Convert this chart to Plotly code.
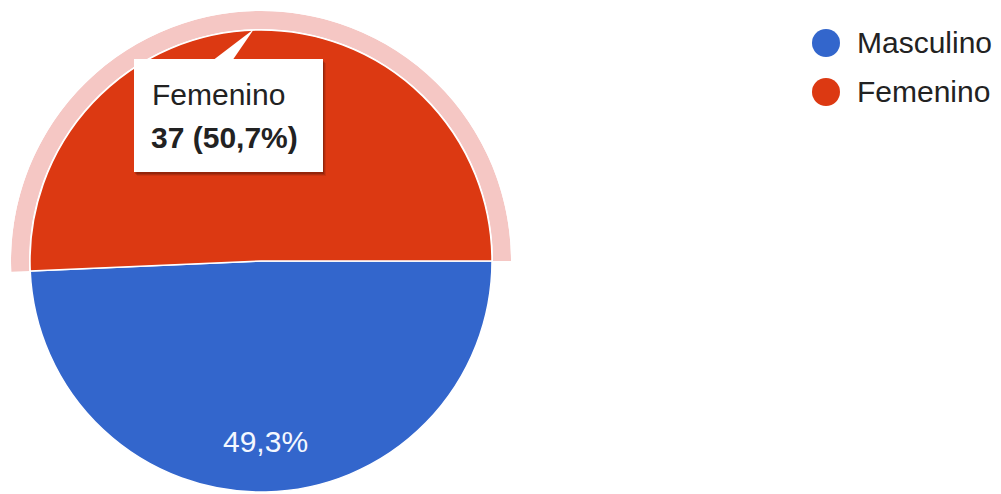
import plotly.graph_objects as go

# Survey answers: gender
categories = ["Masculino", "Femenino"]
counts = [36, 37]
colors = ["#3366cc", "#dc3912"]
highlighted = "Femenino"

W, H = 1001, 494


def px(x):
    return x / W


def py(y):
    return 1 - y / H


def fmt_pct(share):
    return f"{share * 100:.1f}".replace(".", ",") + "%"


total = sum(counts)
shares = [c / total for c in counts]

fig = go.Figure()

# Soft ring around the highlighted slice (polar bar spanning the slice's angle).
hi = categories.index(highlighted)
start_cw = 360 * sum(shares[:hi])
end_cw = 360 * sum(shares[:hi + 1])
fig.add_trace(go.Barpolar(
    r=[18], base=[232],
    theta=[-(start_cw + end_cw) / 2], width=[end_cw - start_cw],
    marker=dict(color="rgba(222,70,60,0.30)", line=dict(width=0)),
    hoverinfo="skip", showlegend=False,
))

fig.add_trace(go.Pie(
    labels=categories, values=counts, sort=False,
    direction="clockwise", rotation=90,
    marker=dict(colors=colors, line=dict(color="#ffffff", width=1.5)),
    textinfo="none", hoverinfo="skip", showlegend=False,
    domain=dict(x=[px(30), px(492)], y=[py(492), py(30)]),
))

shapes = []
annotations = []

# Tooltip for the highlighted slice
box = (134, 59, 323, 172)
for off, alpha in [(4, 0.08), (3, 0.12), (2, 0.16)]:
    shapes.append(dict(type="rect", xref="paper", yref="paper", layer="above",
                       x0=px(box[0] + off - 1), x1=px(box[2] + off - 1),
                       y0=py(box[3] + off), y1=py(box[1] + off),
                       fillcolor=f"rgba(0,0,0,{alpha})", line=dict(width=0)))
shapes.append(dict(type="rect", xref="paper", yref="paper", layer="above",
                   x0=px(box[0]), x1=px(box[2]), y0=py(box[3]), y1=py(box[1]),
                   fillcolor="#ffffff", line=dict(width=0)))
shapes.append(dict(type="path", xref="paper", yref="paper", layer="above",
                   path=(f"M {px(214)},{py(59.5)} L {px(233)},{py(59.5)} "
                         f"L {px(254)},{py(29)} Z"),
                   fillcolor="#ffffff", line=dict(width=0)))

font = "Arial, Liberation Sans, sans-serif"
annotations.append(dict(x=px(150), y=py(95), xref="paper", yref="paper",
                        xanchor="left", yanchor="middle", showarrow=False,
                        text=highlighted,
                        font=dict(family=font, size=30, color="#222222")))
annotations.append(dict(x=px(149), y=py(137), xref="paper", yref="paper",
                        xanchor="left", yanchor="middle", showarrow=False,
                        text=f"<b>{counts[hi]} ({fmt_pct(shares[hi])})</b>",
                        font=dict(family=font, size=30, color="#222222")))

# Percentage inside the other slice
annotations.append(dict(x=px(265), y=py(441), xref="paper", yref="paper",
                        xanchor="center", yanchor="middle", showarrow=False,
                        text=fmt_pct(shares[0]),
                        font=dict(family=font, size=30, color="#f4f8ff")))

# Legend with round swatches
legend_rows = [43, 92]
for cat, col, ly in zip(categories, colors, legend_rows):
    shapes.append(dict(type="circle", xref="paper", yref="paper", layer="above",
                       x0=px(812), x1=px(840), y0=py(ly + 14), y1=py(ly - 14),
                       fillcolor=col, line=dict(width=0)))
    annotations.append(dict(x=px(855), y=py(ly), xref="paper", yref="paper",
                            xanchor="left", yanchor="middle", showarrow=False,
                            text=cat,
                            font=dict(family=font, size=30, color="#222222")))

fig.update_layout(
    width=W, height=H,
    margin=dict(l=0, r=0, t=0, b=0),
    paper_bgcolor="#ffffff", plot_bgcolor="#ffffff",
    showlegend=False,
    polar=dict(
        domain=dict(x=[px(11), px(511)], y=[py(282.8), py(11)]),
        sector=[-5, 185],
        bgcolor="rgba(0,0,0,0)",
        radialaxis=dict(range=[0, 250], visible=False, showgrid=False),
        angularaxis=dict(visible=False, showgrid=False, rotation=0,
                         direction="counterclockwise"),
    ),
    shapes=shapes,
    annotations=annotations,
)

fig.write_html("out.html")
